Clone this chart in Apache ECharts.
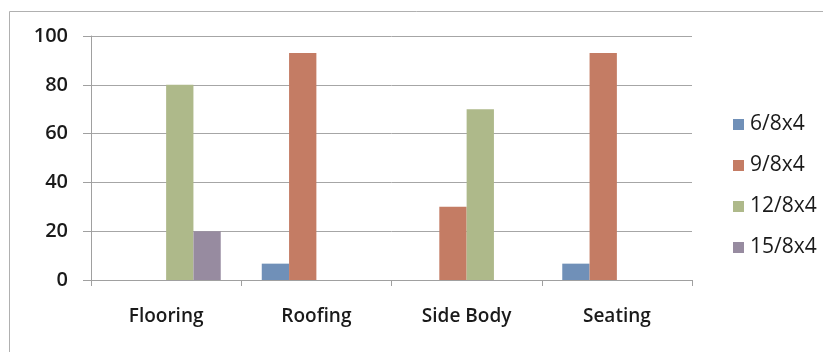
<!DOCTYPE html>
<html>
<head>
<meta charset="utf-8">
<script src="https://cdn.jsdelivr.net/npm/echarts@6/dist/echarts.min.js"></script>
<style>
html,body{margin:0;padding:0;background:#fff;}
#chart{width:823px;height:352px;}
</style>
</head>
<body>
<div id="chart"></div>
<script>
const categories = ['Flooring', 'Roofing', 'Side Body', 'Seating'];
const seriesNames = ['6/8x4', '9/8x4', '12/8x4', '15/8x4'];
const s6 = [0, 6.7, 0, 6.7];
const s9 = [0, 93, 30, 93];
const s12 = [80, 0, 70, 0];
const s15 = [20, 0, 0, 0];
const yTicks = [0, 20, 40, 60, 80, 100];
const colors = ['#7090B8', '#C47C64', '#AEB98A', '#978BA0'];

const FONT = 'Open Sans';
const chart = echarts.init(document.getElementById('chart'), null, {renderer: 'canvas'});
const values = [s6, s9, s12, s15];
chart.setOption({
  animation: false,
  backgroundColor: '#fff',
  graphic: [{
    type: 'rect',
    shape: {x: 9.5, y: 11.5, width: 830, height: 360},
    style: {fill: 'none', stroke: '#b0b0b0', lineWidth: 1},
    silent: true
  }],
  grid: {left: 91, right: 131, top: 36, bottom: 72, containLabel: false},
  legend: {
    orient: 'vertical',
    left: 728,
    top: 109,
    itemWidth: 11,
    itemHeight: 11,
    itemGap: 20,
    icon: 'rect',
    data: seriesNames,
    textStyle: {fontFamily: FONT, fontSize: 21, color: '#1a1a1a', padding: [0, 0, 0, 1]}
  },
  xAxis: {
    type: 'category',
    data: categories,
    axisLine: {lineStyle: {color: '#a0a0a0', width: 1}},
    axisTick: {show: true, length: 6, alignWithLabel: false, lineStyle: {color: '#a0a0a0'}},
    axisLabel: {fontFamily: FONT, fontSize: 19, fontWeight: 600, color: '#1a1a1a', margin: 27}
  },
  yAxis: {
    type: 'value',
    min: yTicks[0],
    max: yTicks[yTicks.length - 1],
    interval: 20,
    axisLine: {show: true, lineStyle: {color: '#a0a0a0', width: 1}},
    axisTick: {show: true, length: 8, lineStyle: {color: '#a0a0a0'}},
    splitLine: {lineStyle: {color: '#a6a6a6', width: 1}},
    axisLabel: {fontFamily: FONT, fontSize: 20, fontWeight: 600, color: '#1a1a1a', margin: 23}
  },
  series: seriesNames.map((n, i) => ({
    name: n,
    type: 'bar',
    data: values[i],
    itemStyle: {color: colors[i]},
    barGap: '0%',
    barCategoryGap: '27.3%'
  }))
});
</script>
</body>
</html>
